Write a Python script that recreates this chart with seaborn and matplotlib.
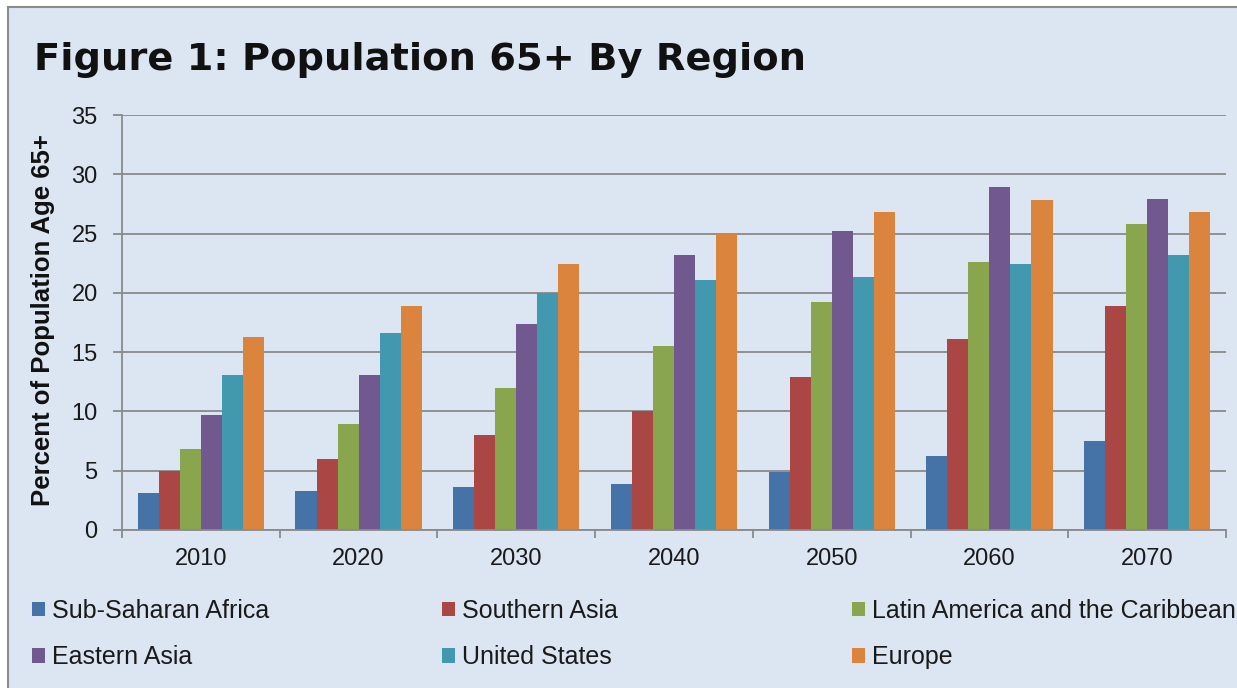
import matplotlib
matplotlib.use('Agg')
import matplotlib.pyplot as plt
from matplotlib.patches import Patch, Rectangle
from matplotlib.ticker import FixedLocator
import seaborn as sns
import pandas
import numpy

years = ['2010', '2020', '2030', '2040', '2050', '2060', '2070']
regions = ['Sub-Saharan Africa', 'Southern Asia', 'Latin America and the Caribbean',
           'Eastern Asia', 'United States', 'Europe']
sub_saharan = [3.1, 3.3, 3.6, 3.9, 4.9, 6.2, 7.5]
southern_asia = [5.0, 6.0, 8.0, 10.0, 12.9, 16.1, 18.9]
latin_america = [6.8, 8.9, 12.0, 15.5, 19.2, 22.6, 25.8]
eastern_asia = [9.7, 13.1, 17.4, 23.2, 25.2, 28.9, 27.9]
united_states = [13.1, 16.6, 20.0, 21.1, 21.3, 22.4, 23.2]
europe = [16.3, 18.9, 22.4, 25.0, 26.8, 27.8, 26.8]
colors = ['#4572A7', '#AA4643', '#89A54E', '#71588F', '#4198AF', '#DB843D']

series = [sub_saharan, southern_asia, latin_america, eastern_asia, united_states, europe]
rows = []
for reg, vals in zip(regions, series):
    for yr, v in zip(years, vals):
        rows.append({'year': yr, 'region': reg, 'value': v})
df = pandas.DataFrame(rows)

sns.set_theme(style='white')
plt.rcParams['font.family'] = ['Liberation Sans', 'DejaVu Sans']

W, H = 1237, 688
fig = plt.figure(figsize=(W / 100, H / 100), dpi=100, facecolor='white')
bg = '#DCE6F2'
fig.patches.append(Rectangle((8 / W, -0.1), 1.2, 1 - 7 / H + 0.1, transform=fig.transFigure,
                             facecolor=bg, edgecolor='#8C8C8C', linewidth=1.5, zorder=-10))

ax = fig.add_axes([122 / W, 1 - 530 / H, (1226 - 122) / W, (530 - 115) / H])
ax.set_facecolor('none')
sns.barplot(data=df, x='year', y='value', hue='region', hue_order=regions,
            palette=colors, saturation=1, width=0.8, gap=0, linewidth=0,
            legend=False, ax=ax)

ax.set_ylim(0, 35)
ax.set_xlim(-0.5, 6.5)
ax.set_yticks(numpy.arange(0, 36, 5))
ax.yaxis.grid(True, color='#8A8A8A', linewidth=1.3)
ax.set_axisbelow(True)
for s in ['top', 'right']:
    ax.spines[s].set_visible(False)
for s in ['left', 'bottom']:
    ax.spines[s].set_color('#8A8A8A')
    ax.spines[s].set_linewidth(1.3)

ax.tick_params(axis='y', which='major', left=True, length=6.5, width=1.3, color='#8A8A8A',
               pad=11, labelsize=17, labelcolor='#1A1A1A')
ax.tick_params(axis='x', which='major', bottom=True, length=0, pad=13, labelsize=17,
               labelcolor='#1A1A1A')
ax.xaxis.set_minor_locator(FixedLocator(numpy.arange(-0.5, 7, 1)))
ax.tick_params(axis='x', which='minor', bottom=True, length=6, width=1.3, color='#8A8A8A')
ax.set_xlabel('')
ax.set_ylabel('')

fig.text(43 / W, 1 - 320 / H, 'Percent of Population Age 65+', rotation=90,
         ha='center', va='center', fontsize=18.5, fontweight='bold', color='#111111')
fig.text(34 / W, 1 - 70 / H, 'Figure 1: Population 65+ By Region', ha='left', va='baseline',
         fontsize=27.6, fontweight='bold', color='#111111', family=['DejaVu Sans'])

handles = [Patch(facecolor=c, edgecolor='none') for c in colors]
col_x = [32, 442, 852]
for i, x in enumerate(col_x):
    fig.legend([handles[i], handles[i + 3]], [regions[i], regions[i + 3]],
               loc='center left', bbox_to_anchor=(x / W, 1 - 634 / H),
               frameon=False, fontsize=18, handlelength=0.52, handleheight=0.52,
               handletextpad=0.28, labelspacing=0.9, borderpad=0, borderaxespad=0,
               labelcolor='#1A1A1A')

fig.savefig('out.png', dpi=100, facecolor='white')
